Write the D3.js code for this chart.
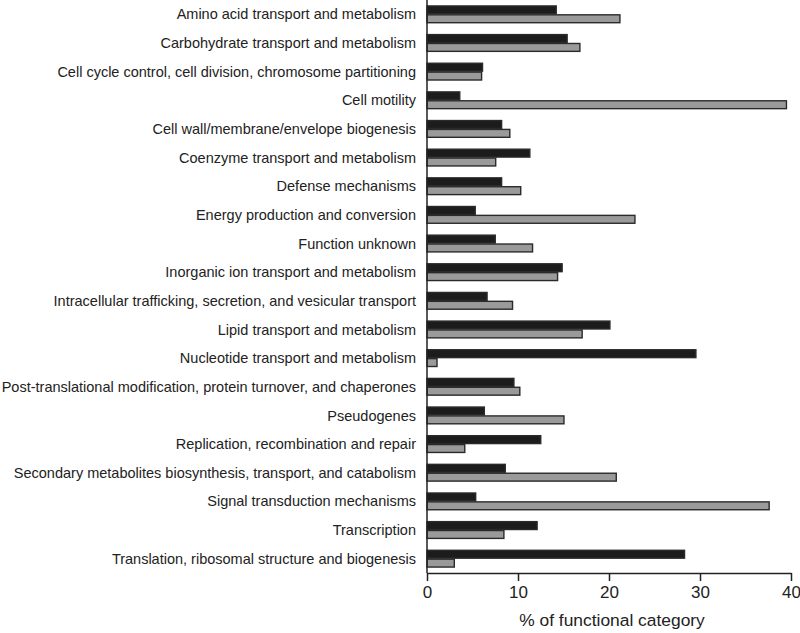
<!DOCTYPE html>
<html><head><meta charset="utf-8">
<script src="https://cdn.jsdelivr.net/npm/d3@7"></script>
<style>
body{margin:0;background:#fff;}
text{font-family:"Liberation Sans",Arial,sans-serif;fill:#222;}
</style></head>
<body><svg id="c" width="800" height="633"></svg>
<script>
const categories = [
"Amino acid transport and metabolism",
"Carbohydrate transport and metabolism",
"Cell cycle control, cell division, chromosome partitioning",
"Cell motility",
"Cell wall/membrane/envelope biogenesis",
"Coenzyme transport and metabolism",
"Defense mechanisms",
"Energy production and conversion",
"Function unknown",
"Inorganic ion transport and metabolism",
"Intracellular trafficking, secretion, and vesicular transport",
"Lipid transport and metabolism",
"Nucleotide transport and metabolism",
"Post-translational modification, protein turnover, and chaperones",
"Pseudogenes",
"Replication, recombination and repair",
"Secondary metabolites biosynthesis, transport, and catabolism",
"Signal transduction mechanisms",
"Transcription",
"Translation, ribosomal structure and biogenesis"
];
const seriesBlack = [14.2,15.4,6.1,3.6,8.2,11.3,8.2,5.3,7.5,14.85,6.6,20.1,29.55,9.55,6.3,12.5,8.6,5.35,12.1,28.3];
const seriesGray  = [21.2,16.8,6.0,39.5,9.1,7.55,10.3,22.85,11.6,14.35,9.4,17.05,1.1,10.2,15.05,4.15,20.8,37.6,8.45,3.0];
const xTicks = [0,10,20,30,40];
const seriesNames = ["black","gray"];
const axisTitle = "% of functional category";

const svg = d3.select("#c");
const mLeft = 427, mRight = 791, mTop = 0, mBottom = 573;
const x = d3.scaleLinear().domain([0,40]).range([mLeft,mRight]);
const y = d3.scaleBand().domain(categories).range([mTop,mBottom]).paddingInner(0.38).paddingOuter(0.19);
const sub = d3.scaleBand().domain(seriesNames).range([0,y.bandwidth()]);
const fills = {black:"#1c1c1c", gray:"#9a9a9a"};

const rows = categories.map((c,i)=>({c, black:seriesBlack[i], gray:seriesGray[i]}));
const g = svg.append("g");
rows.forEach(r=>{
  seriesNames.forEach(s=>{
    g.append("rect")
      .attr("x", x(0))
      .attr("y", y(r.c)+sub(s)+0.5)
      .attr("width", x(r[s])-x(0))
      .attr("height", sub.bandwidth()-1)
      .attr("fill", fills[s])
      .attr("stroke", "#2a2a2a")
      .attr("stroke-width", 1.4);
  });
});

svg.append("g").selectAll("text").data(categories).join("text")
  .attr("x", mLeft-11)
  .attr("y", d=>y(d)+y.bandwidth()/2)
  .attr("dy","0.35em")
  .attr("text-anchor","end")
  .attr("font-size","14.5px")
  .text(d=>d);

svg.append("line").attr("x1",mLeft).attr("x2",mLeft).attr("y1",0).attr("y2",mBottom)
  .attr("stroke","#222").attr("stroke-width",1.5);

const xa = svg.append("g").attr("transform",`translate(0,${mBottom})`)
  .call(d3.axisBottom(x).tickValues(xTicks).tickSize(8).tickPadding(5).tickSizeOuter(0));
xa.select(".domain").attr("stroke","#222").attr("stroke-width",1.5);
xa.selectAll(".tick line").attr("stroke","#222").attr("stroke-width",1.5);
xa.selectAll(".tick text").attr("font-size","17px").attr("font-family","'Liberation Sans',Arial,sans-serif").attr("fill","#222");

svg.append("text").attr("x",(mLeft+mRight)/2+3).attr("y",626)
  .attr("text-anchor","middle").attr("font-size","17.4px").text(axisTitle);
</script></body></html>
